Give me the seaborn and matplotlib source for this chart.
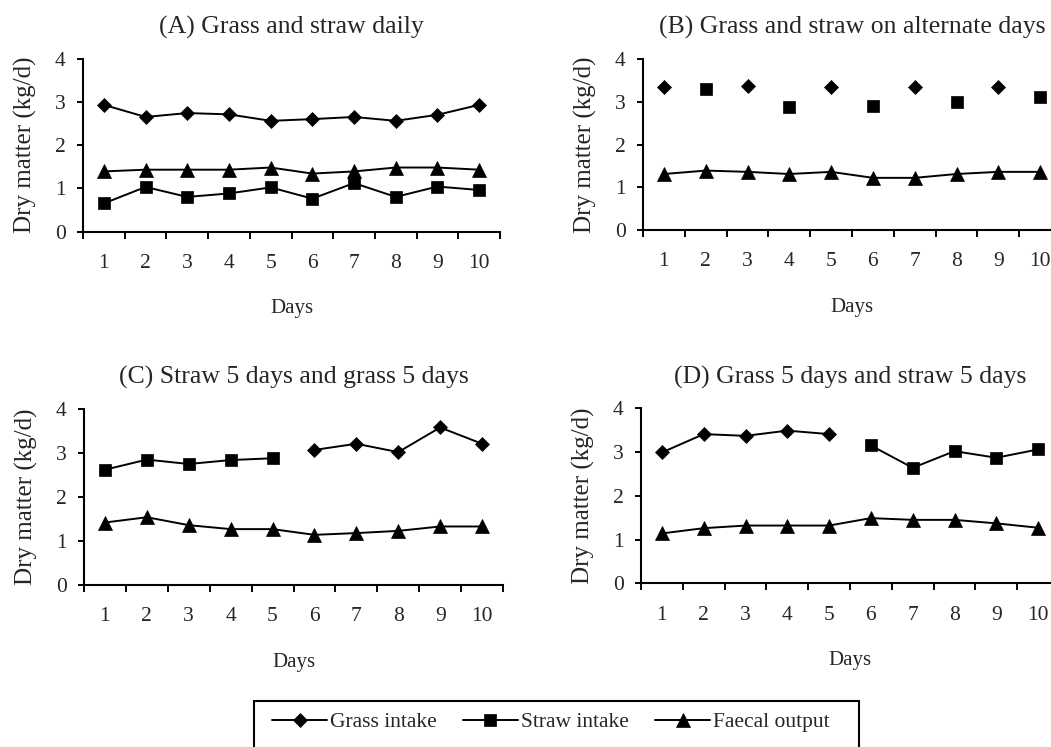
import numpy as np
import pandas as pd
import matplotlib
matplotlib.use("Agg")
import matplotlib.pyplot as plt
import seaborn as sns
from matplotlib.patches import Rectangle

# data (dry matter, kg/d); None = not fed that day
days = list(range(1, 11))

a_grass = [2.93, 2.65, 2.74, 2.71, 2.56, 2.60, 2.65, 2.56, 2.70, 2.93]
a_straw = [0.65, 1.03, 0.80, 0.88, 1.02, 0.76, 1.12, 0.80, 1.04, 0.96]
a_faecal = [1.39, 1.43, 1.43, 1.43, 1.48, 1.34, 1.39, 1.48, 1.48, 1.43]

b_grass = [3.34, None, 3.38, None, 3.34, None, 3.34, None, 3.34, None]
b_straw = [None, 3.29, None, 2.87, None, 2.91, None, 3.00, None, 3.10]
b_faecal = [1.31, 1.39, 1.36, 1.31, 1.36, 1.22, 1.22, 1.31, 1.36, 1.36]

c_grass = [None, None, None, None, None, 3.07, 3.21, 3.02, 3.58, 3.21]
c_straw = [2.62, 2.85, 2.75, 2.84, 2.88, None, None, None, None, None]
c_faecal = [1.42, 1.54, 1.36, 1.27, 1.27, 1.14, 1.18, 1.23, 1.33, 1.33]

d_grass = [2.99, 3.41, 3.37, 3.49, 3.41, None, None, None, None, None]
d_straw = [None, None, None, None, None, 3.15, 2.64, 3.02, 2.87, 3.06]
d_faecal = [1.14, 1.26, 1.32, 1.32, 1.32, 1.49, 1.45, 1.45, 1.37, 1.27]

titles = ["(A) Grass and straw daily",
          "(B) Grass and straw on alternate days",
          "(C) Straw 5 days and grass 5 days",
          "(D) Grass 5 days and straw 5 days"]
legend_labels = ["Grass intake", "Straw intake", "Faecal output"]

sns.set_theme(style="ticks")
plt.rcParams["font.family"] = ["Liberation Serif", "DejaVu Serif"]

W, H = 1051, 747
fig = plt.figure(figsize=(W / 100, H / 100), dpi=100)


def px_axes(l, t, r, b):
    return fig.add_axes([l / W, 1 - b / H, (r - l) / W, (b - t) / H])


panels = [
    (px_axes(83, 58.6, 500, 231.5), a_grass, a_straw, a_faecal, True),
    (px_axes(643, 59, 1061, 230), b_grass, b_straw, b_faecal, False),
    (px_axes(84, 409, 503, 585), c_grass, c_straw, c_faecal, True),
    (px_axes(641, 408.3, 1059, 583.3), d_grass, d_straw, d_faecal, True),
]

styles = [("D", 7.5), ("s", 9), ("^", 10)]

for i, (ax, grass, straw, faecal, joined) in enumerate(panels):
    df = pd.DataFrame({"day": days, "grass": grass, "straw": straw, "faecal": faecal},
                      dtype=float)
    for j, col in enumerate(["grass", "straw", "faecal"]):
        sub = df[["day", col]].dropna()
        mk, ms = styles[j]
        ls = "-" if (joined or col == "faecal") else "none"
        sns.lineplot(data=sub, x="day", y=col, ax=ax, color="black",
                     marker=mk, markersize=ms, linewidth=1.4, linestyle=ls,
                     markeredgecolor="black", markeredgewidth=0.5, errorbar=None)

    ax.set_xlim(0.5, 10.5)
    ax.set_ylim(0, 4)
    ax.set_yticks([0, 1, 2, 3, 4])
    ax.set_xticks(np.arange(0.5, 11, 1))
    ax.set_xticklabels([])
    ax.set_xticks(days, minor=True)
    ax.set_xticklabels([str(d) for d in days], minor=True)
    ax.tick_params(axis="x", which="major", direction="out", length=5, width=1.4, color="black")
    ax.tick_params(axis="x", which="minor", length=0, pad=16, labelsize=15.5)
    ax.tick_params(axis="y", direction="out", length=4.5, width=1.4, pad=8,
                   labelsize=15.5, color="black")
    for s in ["top", "right"]:
        ax.spines[s].set_visible(False)
    for s in ["left", "bottom"]:
        ax.spines[s].set_linewidth(1.5)
        ax.spines[s].set_color("black")
    ax.set_xlabel("Days", fontsize=15, labelpad=19)
    ax.set_ylabel("Dry matter (kg/d)", fontsize=18, labelpad=13)
    ax.set_title(titles[i], fontsize=18.5, pad=18)
    ax.grid(False)

# legend, framed box that runs off the bottom edge like the original
handles = panels[0][0].lines[:3]
fig.patches.append(Rectangle((254 / W, 1 - 760 / H), (859 - 254) / W, 59 / H,
                             transform=fig.transFigure, fill=False,
                             edgecolor="black", linewidth=1.5))
fig.legend(handles, legend_labels, loc="upper left",
           bbox_to_anchor=(272 / W, 1 - 712 / H), ncol=3, frameon=False,
           fontsize=15.5, handlelength=2.56, handletextpad=0.15,
           columnspacing=1.2, borderpad=0, borderaxespad=0)

fig.savefig("out.png", dpi=100)
